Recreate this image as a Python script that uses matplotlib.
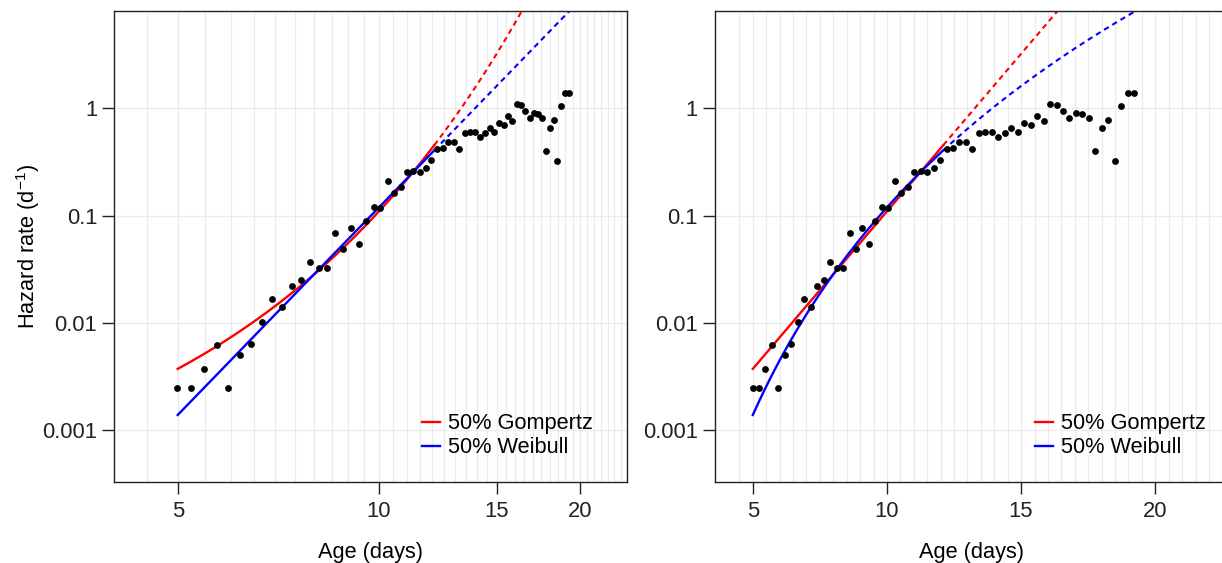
import numpy as np
import matplotlib
matplotlib.use("Agg")
from matplotlib import pyplot as plt
from matplotlib.ticker import NullLocator, FixedLocator, NullFormatter

plt.rcParams.update({
    'font.family': ['Liberation Sans', 'DejaVu Sans'],
    'font.size': 15,
    'mathtext.default': 'regular',
})

# observed hazard rate per age class (same data in both panels)
age = [4.99, 5.23, 5.47, 5.72, 5.95, 6.19, 6.44, 6.68, 6.92, 7.16,
       7.40, 7.65, 7.89, 8.13, 8.36, 8.61, 8.85, 9.08, 9.33, 9.57,
       9.82, 10.05, 10.30, 10.54, 10.79, 11.02, 11.26, 11.51, 11.74, 11.98,
       12.23, 12.46, 12.70, 12.95, 13.18, 13.43, 13.67, 13.90, 14.15, 14.39,
       14.64, 14.87, 15.11, 15.36, 15.59, 15.84, 16.08, 16.33, 16.56, 16.80,
       17.05, 17.28, 17.53, 17.77, 18.00, 18.25, 18.49, 18.73, 18.97, 19.22]
hazard = [0.00245, 0.00245, 0.00368, 0.00616, 0.00245, 0.00497, 0.0063, 0.0101, 0.0166, 0.0140,
          0.0219, 0.0249, 0.0366, 0.0322, 0.0322, 0.0683, 0.0484, 0.0760, 0.0539, 0.0883,
          0.119, 0.1167, 0.2086, 0.161, 0.1834, 0.253, 0.258, 0.253, 0.276, 0.327,
          0.415, 0.424, 0.482, 0.482, 0.415, 0.585, 0.597, 0.597, 0.537, 0.585,
          0.651, 0.597, 0.725, 0.694, 0.842, 0.756, 1.089, 1.066, 0.938, 0.807,
          0.898, 0.879, 0.807, 0.397, 0.651, 0.773, 0.321, 1.044, 1.38, 1.38]

# fitted models (fit to first 50% of deaths)
gomp_a, gomp_b = 1.26e-4, 0.6766     # h = a * exp(b * x)
weib_a, weib_b = 4.42e-8, 6.43       # h = a * x^b
fit_start, fit_end, extrap_end = 5.0, 12.1, 22.0

yticks = [0.001, 0.01, 0.1, 1]
ytick_labels = ['0.001', '0.01', '0.1', '1']
xticks = [5, 10, 15, 20]


def gompertz(x):
    return gomp_a * np.exp(gomp_b * x)


def weibull(x):
    return weib_a * x ** weib_b


def draw_panel(ax, logx):
    x_fit = np.linspace(fit_start, fit_end, 200)
    x_ext = np.linspace(fit_end, extrap_end, 200)
    ax.plot(x_fit, gompertz(x_fit), color='red', lw=1.7, label='50% Gompertz')
    ax.plot(x_fit, weibull(x_fit), color='blue', lw=1.7, label='50% Weibull')
    ax.plot(x_ext, gompertz(x_ext), color='red', lw=1.5, dashes=(2.6, 2.0))
    ax.plot(x_ext, weibull(x_ext), color='blue', lw=1.5, dashes=(2.6, 2.0))
    ax.scatter(age, hazard, s=24, color='black', zorder=3, linewidths=0)

    if logx:
        ax.set_xscale('log')
        ax.set_xlim(4.015, 23.5)
    else:
        ax.set_xlim(3.58, 22.70)
    ax.set_yscale('log')
    ax.set_ylim(10 ** -3.485, 10 ** 0.907)

    ax.xaxis.set_major_locator(FixedLocator(xticks))
    ax.set_xticklabels([str(t) for t in xticks])
    ax.xaxis.set_minor_locator(FixedLocator(np.arange(4.5, 23.5, 0.5)))
    ax.xaxis.set_minor_formatter(NullFormatter())
    ax.yaxis.set_major_locator(FixedLocator(yticks))
    ax.set_yticklabels(ytick_labels)
    ax.yaxis.set_minor_locator(NullLocator())

    ax.tick_params(which='major', direction='out', length=8.5, width=1,
                   labelsize=15.8, colors='#222222')
    ax.tick_params(axis='x', which='major', pad=5.5)
    ax.tick_params(axis='y', which='major', pad=3.5)
    ax.tick_params(which='minor', length=0)
    ax.grid(True, axis='x', which='both', color='#ebebeb', lw=0.9, zorder=0)
    ax.grid(True, axis='y', which='major', color='#ebebeb', lw=0.9, zorder=0)
    ax.set_axisbelow(True)
    for sp in ax.spines.values():
        sp.set_linewidth(1.0)
        sp.set_color('#222222')

    ax.set_xlabel('Age (days)', fontsize=15.7, labelpad=14)


fig = plt.figure(figsize=(12.22, 5.63), dpi=100)
ax1 = fig.add_axes([114 / 1222, 81 / 563, 513 / 1222, 471 / 563])
ax2 = fig.add_axes([714.7 / 1222, 81 / 563, 513 / 1222, 471 / 563])

draw_panel(ax1, logx=True)
draw_panel(ax2, logx=False)
ax1.set_ylabel('Hazard rate (d$^{-1}$)', fontsize=15.7, labelpad=0.5)

for ax, x0 in [(ax1, 0.600), (ax2, 0.624)]:
    ax.legend(loc='lower left', bbox_to_anchor=(x0, 0.05), frameon=False,
              fontsize=15.7, handlelength=0.85, handletextpad=0.35,
              labelspacing=0.15, borderpad=0, borderaxespad=0)

fig.savefig('out.png', dpi=100)
plt.close(fig)
